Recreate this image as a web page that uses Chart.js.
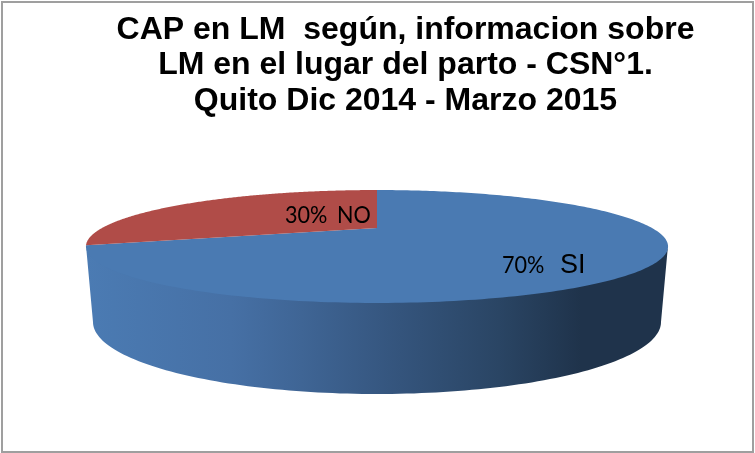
<!DOCTYPE html>
<html>
<head>
<meta charset="utf-8">
<style>html,body{margin:0;padding:0;background:#fff}canvas{display:block}</style>
<script src="https://cdn.jsdelivr.net/npm/chart.js@4"></script>
</head>
<body>
<canvas id="c" width="755" height="453"></canvas>
<script>
const categories = ['SI', 'NO'];
const values = [70, 30];
const sliceColors = ['#4a7ab2', '#b04c48'];
const titleLines = ['CAP en LM  según, informacion sobre', 'LM en el lugar del parto - CSN°1.', 'Quito Dic 2014 - Marzo 2015'];

// Perspective view of the pie's top face and the ellipse of its lower rim
const view = { cx: 377, y0: 228, a: 275, b: 50.4, k: 0.3275, rimCx: 377, rimCy: 322, rimRx: 284, rimRy: 72 };
const wallStops = [[0, '#4b7bb3'], [0.25, '#4670a5'], [0.37, '#3f6595'], [0.54, '#34547c'], [0.71, '#2a4564'], [0.85, '#1f334b'], [1, '#1f334b']];
const labelStyle = [
  { pctX: 502, nameX: 560, y: 273, nameFont: '27px "Liberation Sans"', nameScale: 1 },
  { pctX: 285, nameX: 337, y: 223, nameFont: '24px Lato', nameScale: 0.9 }
];

function project(u, v) {
  const w = 1 + view.k * v;
  return [view.cx + view.a * u / w, view.y0 - view.b * v / w];
}

function drawText(ctx, text, x, y, font, sx) {
  ctx.save();
  ctx.translate(x, y);
  ctx.scale(sx, 1);
  ctx.font = font;
  ctx.fillText(text, 0, 0);
  ctx.restore();
}

const pie3d = {
  id: 'pie3d',
  beforeDatasetDraw(chart, args) {
    const ctx = chart.ctx;
    const arcs = args.meta.data;
    // Front wall: the part of the rim facing the viewer
    const frontA = Math.acos(-view.k);
    const from = -Math.PI / 2 + frontA, to = -Math.PI / 2 + (2 * Math.PI - frontA);
    const grad = ctx.createLinearGradient(86, 0, 668, 0);
    wallStops.forEach(s => grad.addColorStop(s[0], s[1]));
    arcs.forEach(el => {
      const p = el.getProps(['startAngle', 'endAngle']);
      const s = Math.max(p.startAngle, from), e = Math.min(p.endAngle, to);
      if (e <= s) return;
      const n = 120;
      ctx.beginPath();
      for (let i = 0; i <= n; i++) {
        const t = s + (e - s) * i / n;
        const q = project(Math.cos(t), -Math.sin(t));
        i ? ctx.lineTo(q[0], q[1] - 1.5) : ctx.moveTo(q[0], q[1] - 1.5);
      }
      for (let i = n; i >= 0; i--) {
        const t = s + (e - s) * i / n;
        const f = (t - from) / (to - from);
        const r = Math.PI * f;
        ctx.lineTo(view.rimCx + view.rimRx * Math.cos(r), view.rimCy + view.rimRy * Math.sin(r));
      }
      ctx.closePath();
      ctx.fillStyle = grad;
      ctx.fill();
    });
    // Top face
    arcs.forEach(el => {
      const p = el.getProps(['startAngle', 'endAngle']);
      const n = 240;
      ctx.beginPath();
      const c = project(0, 0);
      ctx.moveTo(c[0], c[1]);
      for (let i = 0; i <= n; i++) {
        const t = p.startAngle + (p.endAngle - p.startAngle) * i / n;
        const q = project(Math.cos(t), -Math.sin(t));
        ctx.lineTo(q[0], q[1]);
      }
      ctx.closePath();
      ctx.fillStyle = el.options.backgroundColor;
      ctx.fill();
    });
    return false;
  },
  afterDatasetsDraw(chart) {
    const ctx = chart.ctx;
    ctx.save();
    ctx.fillStyle = '#000';
    ctx.textBaseline = 'alphabetic';
    ctx.textAlign = 'left';
    const total = values.reduce((x, y) => x + y, 0);
    categories.forEach((name, i) => {
      const st = labelStyle[i];
      drawText(ctx, Math.round(values[i] / total * 100) + '%', st.pctX, st.y, '24px Lato', 0.9);
      drawText(ctx, name, st.nameX, st.y, st.nameFont, st.nameScale);
    });
    ctx.restore();
  },
  afterDraw(chart) {
    const ctx = chart.ctx;
    ctx.save();
    ctx.strokeStyle = '#9f9f9f';
    ctx.lineWidth = 2;
    ctx.strokeRect(2, 2, 751, 450);
    ctx.restore();
  }
};

new Chart(document.getElementById('c'), {
  type: 'pie',
  data: { labels: categories, datasets: [{ data: values, backgroundColor: sliceColors, borderWidth: 0 }] },
  plugins: [pie3d],
  options: {
    responsive: false,
    animation: false,
    layout: { padding: { left: 56, top: 12 } },
    plugins: {
      legend: { display: false },
      tooltip: { enabled: false },
      title: {
        display: true,
        text: titleLines,
        color: '#000',
        font: { family: '"Liberation Sans"', size: 32, weight: 'bold', lineHeight: 1.11 },
        padding: 0
      }
    }
  }
});
</script>
</body>
</html>
